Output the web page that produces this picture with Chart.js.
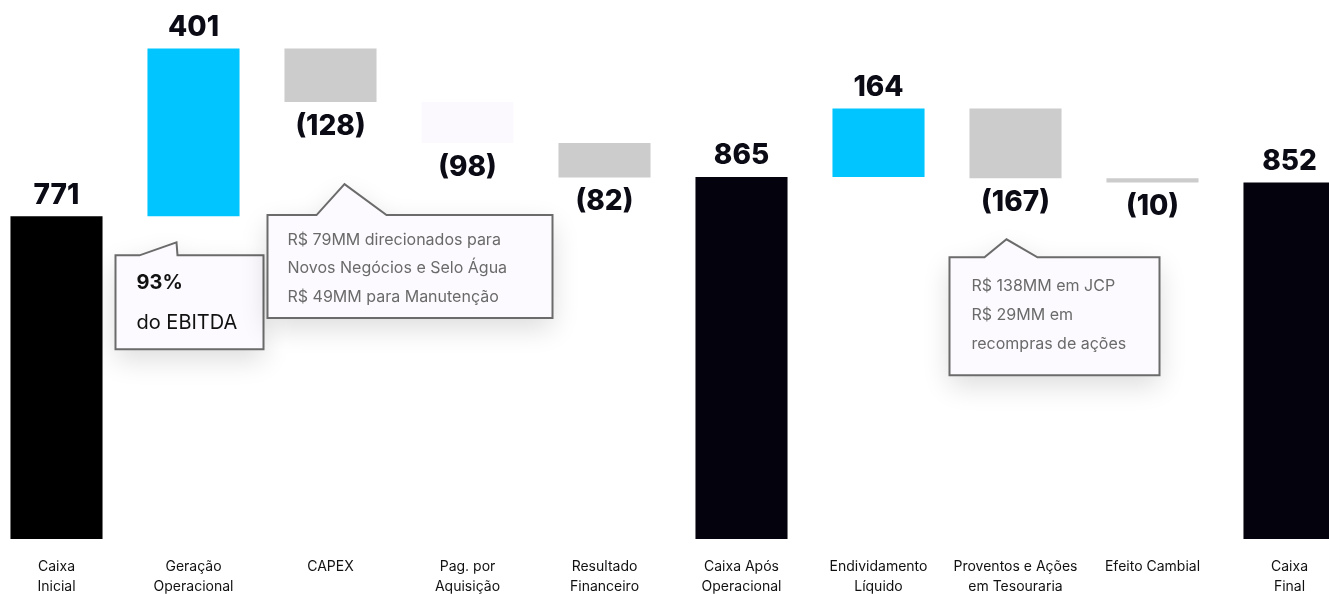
<!DOCTYPE html>
<html>
<head>
<meta charset="utf-8">
<script src="https://cdn.jsdelivr.net/npm/chart.js@4/dist/chart.umd.min.js"></script>
<style>
  html, body { margin: 0; padding: 0; background: #fff; overflow: hidden; }
  #wrap { position: absolute; left: -12px; top: 0; width: 1370px; height: 615px; }
</style>
</head>
<body>
<div id="wrap"><canvas id="cashChart"></canvas></div>
<script>
// Fluxo de caixa (R$ MM) - waterfall
const categories = [
    ["Caixa", "Inicial"], ["Geração", "Operacional"], ["CAPEX"], ["Pag. por", "Aquisição"],
    ["Resultado", "Financeiro"], ["Caixa Após", "Operacional"], ["Endividamento", "Líquido"],
    ["Proventos e Ações", "em Tesouraria"], ["Efeito Cambial"], ["Caixa", "Final"]
];
const values = [771, 401, -128, -98, -82, 865, 164, -167, -10, 852];
const isTotal = [true, false, false, false, false, true, false, false, false, true];
const barColors = ["#000000", "#00C5FF", "#CCCCCC", "#FCF9FE", "#CCCCCC",
                   "#04030d", "#00C5FF", "#CCCCCC", "#CCCCCC", "#04030d"];

const ebitdaNote = ["93%", "do EBITDA"];
const capexNote = ["R$ 79MM direcionados para", "Novos Negócios e Selo Água", "R$ 49MM para Manutenção"];
const proventosNote = ["R$ 138MM em JCP", "R$ 29MM em", "recompras de ações"];

// floating ranges from running total
let running = 0;
const ranges = values.map((v, i) => {
    if (isTotal[i]) { running = v; return [0, v]; }
    const r = [running, running + v].sort((a, b) => a - b);
    running += v;
    return r;
});

const FONT = "Inter, 'Noto Sans', sans-serif";

const valueLabels = {
    id: "valueLabels",
    afterDatasetsDraw(chart) {
        const { ctx, scales: { x, y } } = chart;
        ctx.save();
        ctx.fillStyle = "#0b0b16";
        ctx.font = "800 28px " + FONT;
        ctx.textAlign = "center";
        ctx.textBaseline = "middle";
        values.forEach((v, i) => {
            const cx = x.getPixelForValue(i);
            if (v >= 0) {
                ctx.fillText(String(v), cx, y.getPixelForValue(ranges[i][1]) - 21);
            } else {
                ctx.fillText("(" + (-v) + ")", cx, y.getPixelForValue(ranges[i][0]) + 24);
            }
        });
        ctx.restore();
    }
};

function drawBox(ctx, pts) {
    ctx.beginPath();
    ctx.moveTo(pts[0][0], pts[0][1]);
    pts.slice(1).forEach(p => ctx.lineTo(p[0], p[1]));
    ctx.closePath();
    ctx.save();
    ctx.shadowColor = "rgba(0,0,0,0.14)";
    ctx.shadowBlur = 28;
    ctx.shadowOffsetY = 10;
    ctx.fillStyle = "#FCFAFE";
    ctx.fill();
    ctx.restore();
    ctx.strokeStyle = "#6b6b6b";
    ctx.lineWidth = 2;
    ctx.lineJoin = "miter";
    ctx.stroke();
}

const callouts = {
    id: "callouts",
    afterDatasetsDraw(chart) {
        const { ctx, scales: { x, y } } = chart;
        ctx.save();
        ctx.textBaseline = "middle";
        ctx.textAlign = "left";

        // Geração Operacional
        let cx = x.getPixelForValue(1), by = y.getPixelForValue(ranges[1][0]);
        let l = cx - 78, r = cx + 70, t = by + 39, b = by + 133;
        drawBox(ctx, [[l, t], [cx - 54, t], [cx - 17, by + 26], [cx - 16, t], [r, t], [r, b], [l, b]]);
        ctx.fillStyle = "#111";
        ctx.font = "700 20px " + FONT;
        ctx.fillText(ebitdaNote[0], l + 21, t + 28);
        ctx.font = "400 20px " + FONT;
        ctx.fillText(ebitdaNote[1], l + 21, t + 68);

        // CAPEX
        cx = x.getPixelForValue(2); by = y.getPixelForValue(ranges[2][0]);
        let tx = cx + 14, ty = by + 82;
        l = tx - 77; r = tx + 208; t = ty + 31; b = ty + 134;
        drawBox(ctx, [[l, t], [tx - 28, t], [tx, ty], [tx + 42, t], [r, t], [r, b], [l, b]]);
        ctx.fillStyle = "#6a6a6a";
        ctx.font = "400 16px " + FONT;
        capexNote.forEach((s, k) => ctx.fillText(s, l + 20, t + 25 + k * 28.5));

        // Proventos e Ações em Tesouraria
        cx = x.getPixelForValue(7); by = y.getPixelForValue(ranges[7][0]);
        tx = cx - 9; ty = by + 61;
        l = tx - 57; r = tx + 153; t = ty + 18; b = ty + 136;
        drawBox(ctx, [[l, t], [tx - 22, t], [tx, ty], [tx + 31, t], [r, t], [r, b], [l, b]]);
        ctx.fillStyle = "#6a6a6a";
        ctx.font = "400 16px " + FONT;
        proventosNote.forEach((s, k) => ctx.fillText(s, l + 22, t + 29 + k * 29));

        ctx.restore();
    }
};

new Chart(document.getElementById("cashChart").getContext("2d"), {
    type: "bar",
    data: {
        labels: categories,
        datasets: [{
            data: ranges,
            backgroundColor: barColors,
            borderWidth: 0,
            barPercentage: 0.672,
            categoryPercentage: 1
        }]
    },
    options: {
        responsive: true,
        maintainAspectRatio: false,
        animation: false,
        layout: { padding: 0 },
        plugins: { legend: { display: false }, tooltip: { enabled: false } },
        scales: {
            x: {
                grid: { display: false, drawTicks: false },
                border: { display: false },
                ticks: {
                    color: "#111",
                    padding: 18,
                    maxRotation: 0,
                    autoSkip: false,
                    font: { family: FONT, size: 14, lineHeight: "20px" }
                }
            },
            y: { display: false, min: 0, max: 1288 }
        }
    },
    plugins: [valueLabels, callouts]
});
</script>
</body>
</html>
